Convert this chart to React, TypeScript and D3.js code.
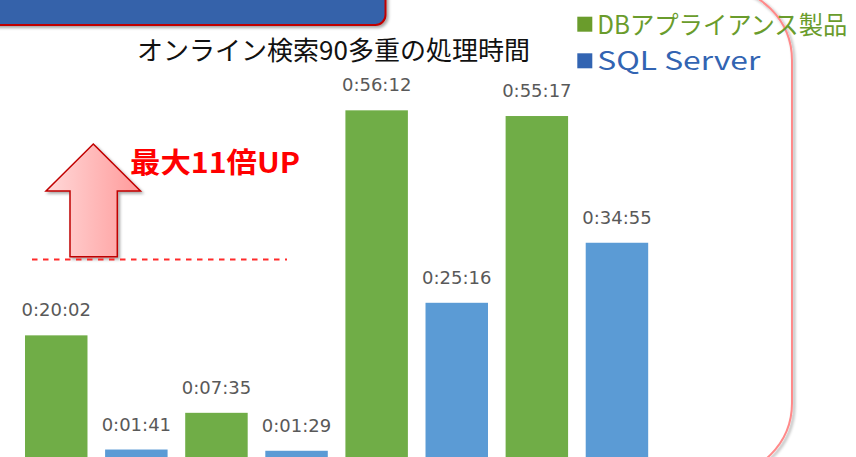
import React from "react";
import * as d3 from "d3";

const groups = ["G1", "G2", "G3", "G4"];
const seriesNames = ["DBアプライアンス製品", "SQL Server"];
const dbSeconds = [1202, 455, 3372, 3317];
const sqlSeconds = [101, 89, 1516, 2095];
const barColors = ["#70ad47", "#5b9bd5"];
const legendColors = ["#6a9c2c", "#3264b2"];
const titleText = "オンライン検索90多重の処理時間";
const calloutText = "最大11倍UP";

const W = 856;
const H = 457;

function fmt(s: number): string {
  const h = Math.floor(s / 3600);
  const m = Math.floor((s % 3600) / 60);
  const sec = s % 60;
  return `${h}:${String(m).padStart(2, "0")}:${String(sec).padStart(2, "0")}`;
}

export default function App() {
  const x0 = d3.scaleBand<string>().domain(groups).range([16.2, 657]).padding(0);
  const x1 = d3
    .scaleBand<number>()
    .domain([0, 1])
    .range([0, x0.bandwidth()])
    .paddingInner(0.22)
    .paddingOuter(0.11);
  const y = d3.scaleLinear().domain([0, 3600]).range([460, 460 - 3600 * 0.1037]);
  const seriesData = [dbSeconds, sqlSeconds];

  return (
    <svg
      width={W}
      height={H}
      style={{ position: "absolute", left: 0, top: 0, background: "#fff" }}
    >
      <defs>
        <filter id="sh" x="-20%" y="-20%" width="140%" height="140%">
          <feDropShadow dx="2" dy="2" stdDeviation="1.8" floodColor="#000" floodOpacity="0.35" />
        </filter>
        <linearGradient id="arrowGrad" x1="0" x2="1" y1="0" y2="0">
          <stop offset="0" stopColor="#ffd9d9" />
          <stop offset="1" stopColor="#ff9a9a" />
        </linearGradient>
      </defs>
      <rect x={0} y={0} width={W} height={H} fill="#fff" />

      {/* large rounded frame */}
      <rect
        x={-200}
        y={-12.6}
        width={992}
        height={488.6}
        rx={73}
        ry={73}
        fill="none"
        stroke="#ff8a8a"
        strokeWidth={2}
        filter="url(#sh)"
      />

      {/* blue header box */}
      <rect
        x={-20}
        y={-30}
        width={405.5}
        height={55}
        rx={10}
        ry={10}
        fill="#3462aa"
        stroke="#c00000"
        strokeWidth={2}
        filter="url(#sh)"
      />

      {/* title */}
      <text
        x={333.5}
        y={60}
        textAnchor="middle"
        fontFamily="'Noto Sans CJK JP', sans-serif"
        fontSize={26}
        fill="#111"
      >
        {titleText}
      </text>

      {/* legend */}
      {seriesNames.map((name, i) => (
        <g key={name}>
          <rect x={577.3} y={16.7 + i * 36.6} width={15} height={15} fill={legendColors[i]} />
          <text
            x={597.3}
            y={33.5 + i * 36.6}
            fontFamily="'Noto Sans CJK JP', sans-serif"
            fontSize={25}
            fill={legendColors[i]}
            textLength={i === 0 ? 250 : 163}
            lengthAdjust="spacingAndGlyphs"
          >
            {name}
          </text>
        </g>
      ))}

      {/* bars */}
      {groups.map((g, gi) =>
        seriesData.map((vals, si) => {
          const v = vals[gi];
          const bx = (x0(g) as number) + (x1(si) as number);
          const by = y(v);
          return (
            <g key={g + si}>
              <rect
                x={bx}
                y={by}
                width={x1.bandwidth()}
                height={y(0) - by}
                fill={barColors[si]}
              />
              <text
                x={bx + x1.bandwidth() / 2}
                y={by - 19}
                textAnchor="middle"
                fontFamily="'DejaVu Sans', sans-serif"
                fontSize={18}
                fill="#595959"
              >
                {fmt(v)}
              </text>
            </g>
          );
        })
      )}

      {/* arrow */}
      <path
        d="M93.3,144 L140.5,191 L117.3,191 L117.3,256.7 L70,256.7 L70,191 L46,191 Z"
        fill="url(#arrowGrad)"
        stroke="#c00000"
        strokeWidth={1.5}
        strokeLinejoin="miter"
        filter="url(#sh)"
      />
      <line
        x1={32}
        x2={287}
        y1={259.5}
        y2={259.5}
        stroke="#ff2a2a"
        strokeWidth={1.8}
        strokeDasharray="5.5 5.5"
      />
      <text
        x={130}
        y={173}
        fontFamily="'Noto Sans CJK JP', sans-serif"
        fontWeight={700}
        fontSize={28}
        fill="#ff0000"
        textLength={170}
        lengthAdjust="spacingAndGlyphs"
      >
        {calloutText}
      </text>
    </svg>
  );
}
